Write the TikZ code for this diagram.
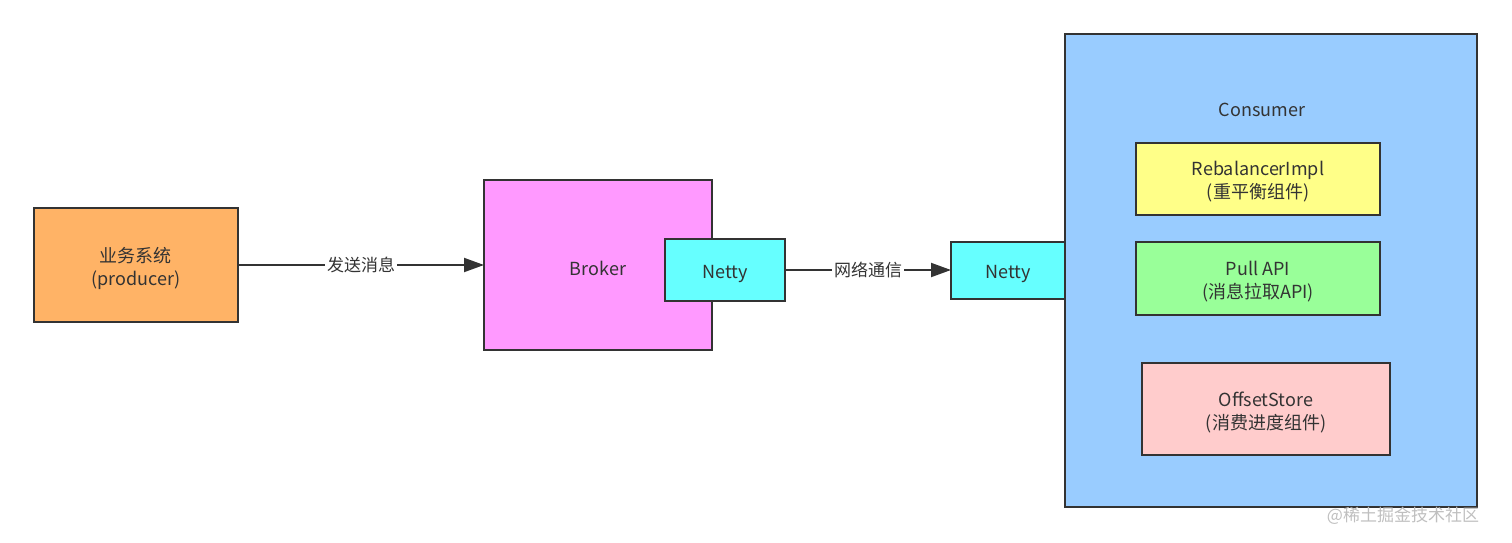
\documentclass[tikz,border=0pt]{standalone}
\usepackage{fontspec}
\setmainfont{Noto Sans CJK SC}
\usetikzlibrary{arrows.meta}
\definecolor{bordc}{HTML}{333333}
\definecolor{orangec}{HTML}{FFB366}
\definecolor{pinkc}{HTML}{FF99FF}
\definecolor{cyanc}{HTML}{66FFFF}
\definecolor{bluec}{HTML}{99CCFF}
\definecolor{yellowc}{HTML}{FFFF88}
\definecolor{greenc}{HTML}{99FF99}
\definecolor{rosec}{HTML}{FFCCCC}
\definecolor{txtc}{HTML}{333333}
\tikzset{
  boxstyle/.style={draw=bordc, line width=1.25pt},
  lbl/.style={font=\fontsize{9pt}{11.5pt}\selectfont, text=txtc, align=center, inner sep=0pt},
  conn/.style={draw=bordc, line width=1pt, -{Triangle[length=10pt,width=7pt]}},
  elbl/.style={font=\fontsize{8.5pt}{10pt}\selectfont, text=txtc, fill=white, inner sep=1pt},
}
\begin{document}
\begin{tikzpicture}[x=0.5pt,y=-0.5pt]
\useasboundingbox (0,0) rectangle (1512,542);
% consumer container
\draw[boxstyle, fill=bluec] (1065,34) rectangle (1477,507);
\node[lbl] (consumer) at (1262,110) {Consumer};
% producer
\draw[boxstyle, fill=orangec] (34,208) rectangle (238,322);
\node[lbl] (producer) at (136,268) {业务系统\\(producer)};
\coordinate (prodR) at (238,265);
% broker
\draw[boxstyle, fill=pinkc] (484,180) rectangle (712,350);
\coordinate (brokerL) at (484,265);
\node[lbl] (broker) at (598,268) {Broker};
% netty 1
\draw[boxstyle, fill=cyanc] (665,239) rectangle (785,301);
\node[lbl] (netty1) at (725,274) {Netty};
\coordinate (netty1R) at (785,270);
% netty 2
\draw[boxstyle, fill=cyanc] (951,242) rectangle (1065,299);
\node[lbl] (netty2) at (1008,274) {Netty};
\coordinate (netty2L) at (951,270);
% inner components
\draw[boxstyle, fill=yellowc] (1136,143) rectangle (1380,215);
\node[lbl] (rebal) at (1258,182) {RebalancerImpl\\(重平衡组件)};
\draw[boxstyle, fill=greenc] (1136,242) rectangle (1380,315);
\node[lbl] (pull) at (1258,282) {Pull API\\(消息拉取API)};
\draw[boxstyle, fill=rosec] (1142,363) rectangle (1390,455);
\node[lbl] (offset) at (1266,412) {OffsetStore\\(消费进度组件)};
% connectors
\draw[conn] (prodR) -- node[elbl] (e1) {发送消息} (brokerL);
\draw[conn] (netty1R) -- node[elbl] (e2) {网络通信} (netty2L);
% watermark
\node[font=\fontsize{8.5pt}{10pt}\selectfont, text=black!25, inner sep=0pt] (wm) at (1403,516) {@稀土掘金技术社区};
\end{tikzpicture}
\end{document}
